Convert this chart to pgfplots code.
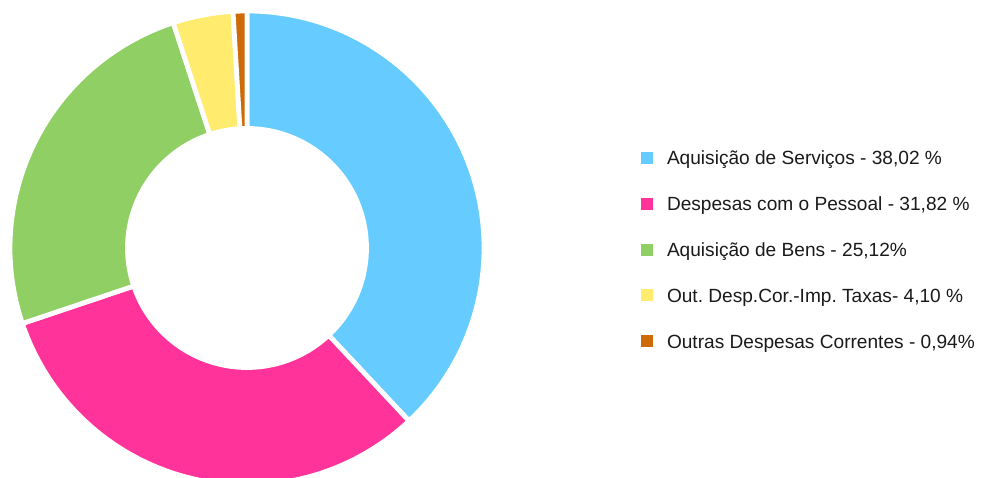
\documentclass[border=0pt]{standalone}
\usepackage{fontspec}
\setmainfont{Liberation Sans}
\usepackage{pgfplots}
\pgfplotsset{compat=1.18}
\usepackage{pgfplotstable}
\frenchspacing

\definecolor{cServ}{HTML}{66CCFF}
\definecolor{cPess}{HTML}{FF3399}
\definecolor{cBens}{HTML}{8FCF63}
\definecolor{cImp}{HTML}{FFEB6E}
\definecolor{cOut}{HTML}{CF6A08}
\definecolor{txt}{HTML}{1A1A1A}

% share of each group, in the order drawn (clockwise from 12 o'clock)
\pgfplotstableread[col sep=comma]{
value,color
38.02,cServ
31.82,cPess
25.12,cBens
4.10,cImp
0.94,cOut
}\slices

\pgfplotsset{
  sqlegend/.style={legend image code/.code={\fill[##1, draw=none] (0pt,-6pt) rectangle (12pt,6pt);}},
}

\begin{document}
\begin{tikzpicture}
\begin{axis}[
    x=1pt, y=1pt,
    xmin=0, xmax=981, ymin=0, ymax=478,
    hide axis, clip=true,
    sqlegend,
    legend cell align=left,
    legend style={
        at={(641/981,327/478)}, anchor=north west,
        draw=none, fill=none, inner sep=0pt, outer sep=0pt,
        column sep=14pt, row sep=31.8pt,
        nodes={inner sep=0pt, text height=14pt, text depth=0pt,
               font=\fontsize{19.1}{21}\selectfont, text=txt},
    },
]
\pgfplotstablegetrowsof{\slices}
\pgfmathtruncatemacro\nrows{\pgfplotsretval-1}
\def\cum{0}
\pgfplotsforeachungrouped \i in {0,...,\nrows}{
  \pgfplotstablegetelem{\i}{value}\of\slices \let\v\pgfplotsretval
  \pgfplotstablegetelem{\i}{color}\of\slices \let\c\pgfplotsretval
  \pgfmathsetmacro\aA{90-3.6*\cum}
  \pgfmathsetmacro\aB{90-3.6*(\cum+\v)}
  \pgfmathsetmacro\aC{\aB+180}
  \pgfmathsetmacro\cum{\cum+\v}
  \edef\temp{\noexpand\filldraw[fill=\c, draw=white, line width=4.8pt]
    (axis cs:247,230) ++(\aA:237pt) arc[start angle=\aA, end angle=\aB, radius=237pt]
    -- ++(\aC:117.5pt) arc[start angle=\aB, end angle=\aA, radius=119.5pt] -- cycle;}
  \temp
}
\addlegendimage{fill=cServ}
\addlegendentry{Aquisição de Serviços - 38,02 \%}
\addlegendimage{fill=cPess}
\addlegendentry{Despesas com o Pessoal - 31,82 \%}
\addlegendimage{fill=cBens}
\addlegendentry{Aquisição de Bens - 25,12\%}
\addlegendimage{fill=cImp}
\addlegendentry{Out. Desp.Cor.-Imp. Taxas- 4,10 \%}
\addlegendimage{fill=cOut}
\addlegendentry{Outras Despesas Correntes - 0,94\%}
\end{axis}
\pgfresetboundingbox
\useasboundingbox (0,0) rectangle (981pt,478pt);
\end{tikzpicture}
\end{document}
